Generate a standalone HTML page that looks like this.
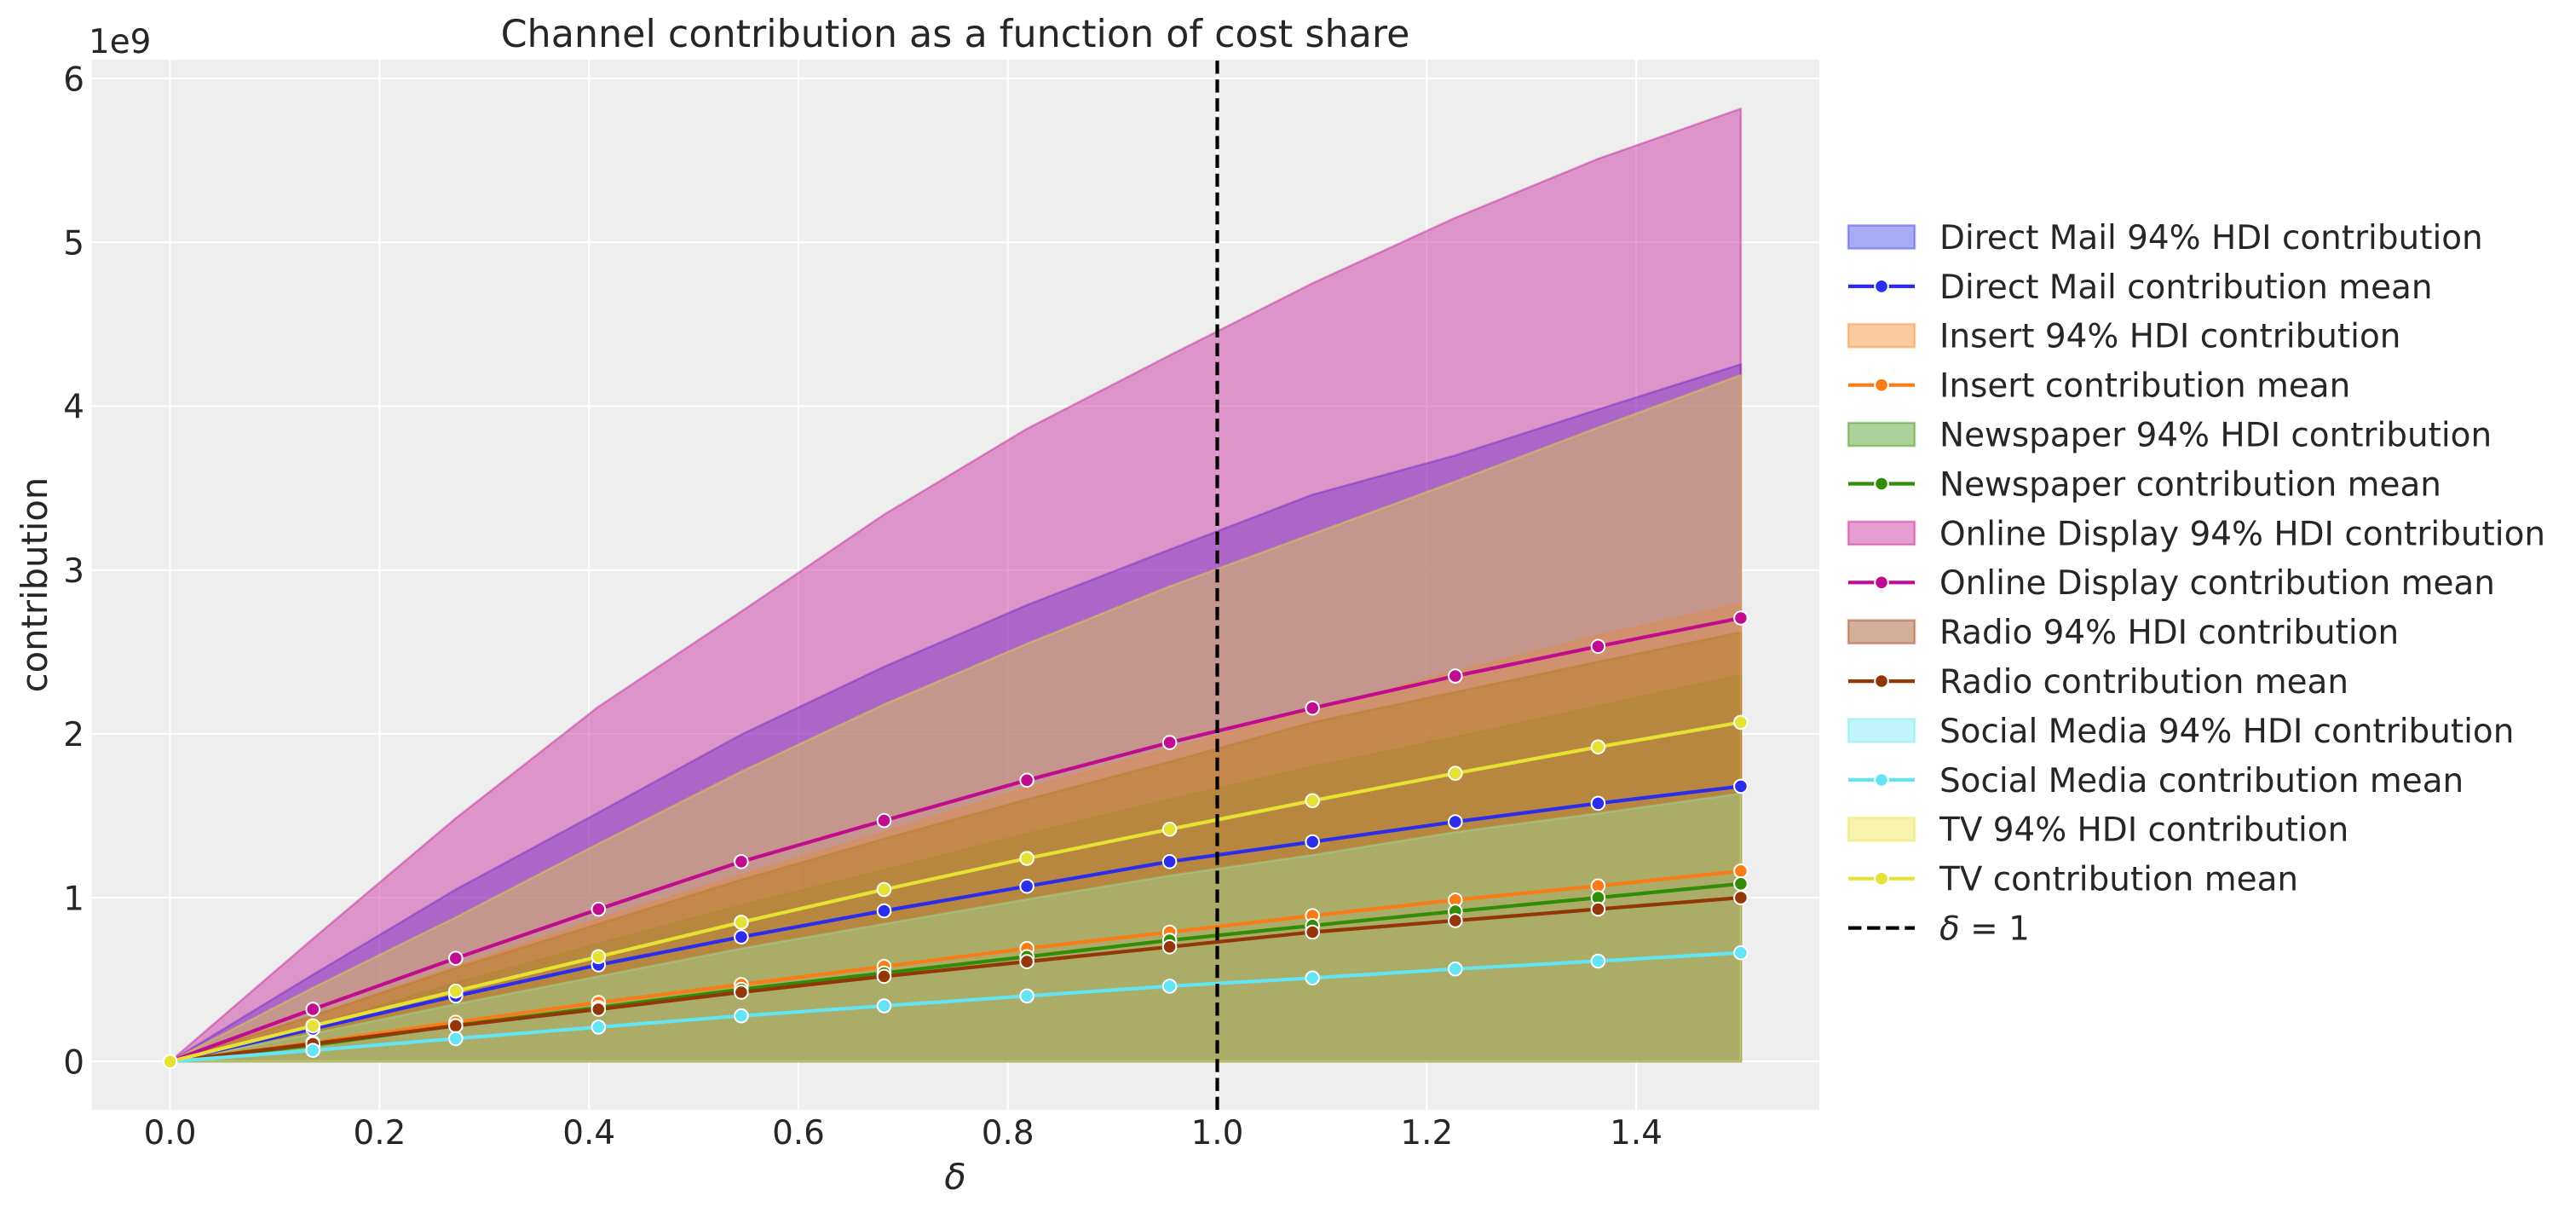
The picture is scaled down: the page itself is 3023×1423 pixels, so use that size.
<!DOCTYPE html>
<html><head><meta charset="utf-8"><style>
html,body{margin:0;padding:0;background:#fff;}
svg{display:block;}
text{font-family:"DejaVu Sans","Liberation Sans",sans-serif;fill:#262626;}
</style></head><body>
<svg width="3023" height="1423" viewBox="0 0 3023 1423" xmlns="http://www.w3.org/2000/svg">
<rect x="0" y="0" width="3023" height="1423" fill="#ffffff"/>
<rect x="107.4" y="70" width="2027.7" height="1232" fill="#eeeeee"/>
<g stroke="#ffffff" stroke-width="2">
<line x1="107.4" x2="2135.1" y1="1245.3" y2="1245.3"/>
<line x1="107.4" x2="2135.1" y1="1053.1" y2="1053.1"/>
<line x1="107.4" x2="2135.1" y1="860.9" y2="860.9"/>
<line x1="107.4" x2="2135.1" y1="668.7" y2="668.7"/>
<line x1="107.4" x2="2135.1" y1="476.5" y2="476.5"/>
<line x1="107.4" x2="2135.1" y1="284.3" y2="284.3"/>
<line x1="107.4" x2="2135.1" y1="92.1" y2="92.1"/>
<line y1="70" y2="1302" x1="199.6" x2="199.6"/>
<line y1="70" y2="1302" x1="445.4" x2="445.4"/>
<line y1="70" y2="1302" x1="691.2" x2="691.2"/>
<line y1="70" y2="1302" x1="937.0" x2="937.0"/>
<line y1="70" y2="1302" x1="1182.7" x2="1182.7"/>
<line y1="70" y2="1302" x1="1428.5" x2="1428.5"/>
<line y1="70" y2="1302" x1="1674.3" x2="1674.3"/>
<line y1="70" y2="1302" x1="1920.1" x2="1920.1"/>
</g>
<g fill-opacity="0.4" stroke-opacity="0.4" stroke-width="2.5" stroke-linejoin="round">
<polygon fill="#2a2eec" stroke="#2a2eec" points="199.6,1245.3 367.2,1143.4 534.8,1043.5 702.3,953.2 869.9,861.7 1037.5,782.1 1205.1,709.8 1372.6,644.7 1540.2,580.3 1707.8,534.2 1875.4,480.3 2042.9,427.3 2042.9,1245.3"/>
<polygon fill="#fa7c17" stroke="#fa7c17" points="199.6,1245.3 367.2,1191.5 534.8,1133.8 702.3,1078.1 869.9,1026.2 1037.5,976.2 1205.1,924.3 1372.6,878.2 1540.2,832.1 1707.8,787.9 1875.4,745.6 2042.9,708.1 2042.9,1245.3"/>
<polygon fill="#328c06" stroke="#328c06" points="199.6,1245.3 367.2,1203.0 534.8,1153.0 702.3,1106.9 869.9,1061.7 1037.5,1020.4 1205.1,978.1 1372.6,937.8 1540.2,899.3 1707.8,864.7 1875.4,828.2 2042.9,791.7 2042.9,1245.3"/>
<polygon fill="#c10c90" stroke="#c10c90" points="199.6,1245.3 367.2,1101.2 534.8,959.9 702.3,829.0 869.9,717.3 1037.5,603.6 1205.1,503.0 1372.6,416.9 1540.2,332.3 1707.8,255.5 1875.4,186.3 2042.9,127.5 2042.9,1245.3"/>
<polygon fill="#933708" stroke="#933708" points="199.6,1245.3 367.2,1191.5 534.8,1135.7 702.3,1083.9 869.9,1032.0 1037.5,983.9 1205.1,937.8 1372.6,893.6 1540.2,847.4 1707.8,811.9 1875.4,776.3 2042.9,741.7 2042.9,1245.3"/>
<polygon fill="#65e5f3" stroke="#65e5f3" points="199.6,1245.3 367.2,1212.6 534.8,1178.0 702.3,1145.4 869.9,1112.7 1037.5,1083.9 1205.1,1055.0 1372.6,1027.2 1540.2,1003.1 1707.8,976.2 1875.4,954.1 2042.9,930.9 2042.9,1245.3"/>
<polygon fill="#e6e135" stroke="#e6e135" points="199.6,1245.3 367.2,1158.8 534.8,1076.2 702.3,989.7 869.9,905.1 1037.5,826.3 1205.1,755.2 1372.6,687.9 1540.2,626.4 1707.8,564.9 1875.4,501.5 2042.9,440.0 2042.9,1245.3"/>
</g>
<g fill="none" stroke-width="4.2" stroke-linejoin="round">
<polyline stroke="#2a2eec" points="199.6,1245.3 367.2,1206.9 534.8,1168.4 702.3,1131.9 869.9,1099.2 1037.5,1068.5 1205.1,1039.7 1372.6,1010.8 1540.2,987.6 1707.8,964.1 1875.4,942.4 2042.9,922.4"/>
</g>
<g fill="#2a2eec" stroke="#fff" stroke-width="2">
<circle cx="199.6" cy="1245.3" r="7.8"/><circle cx="367.2" cy="1206.9" r="7.8"/><circle cx="534.8" cy="1168.4" r="7.8"/><circle cx="702.3" cy="1131.9" r="7.8"/><circle cx="869.9" cy="1099.2" r="7.8"/><circle cx="1037.5" cy="1068.5" r="7.8"/><circle cx="1205.1" cy="1039.7" r="7.8"/><circle cx="1372.6" cy="1010.8" r="7.8"/><circle cx="1540.2" cy="987.6" r="7.8"/><circle cx="1707.8" cy="964.1" r="7.8"/><circle cx="1875.4" cy="942.4" r="7.8"/><circle cx="2042.9" cy="922.4" r="7.8"/>
</g>
<polyline fill="none" stroke-width="4.2" stroke-linejoin="round" stroke="#fa7c17" points="199.6,1245.3 367.2,1223.2 534.8,1199.2 702.3,1176.1 869.9,1155.0 1037.5,1133.8 1205.1,1112.7 1372.6,1093.5 1540.2,1074.2 1707.8,1055.8 1875.4,1039.3 2042.9,1021.8"/>
<g fill="#fa7c17" stroke="#fff" stroke-width="2">
<circle cx="199.6" cy="1245.3" r="7.8"/><circle cx="367.2" cy="1223.2" r="7.8"/><circle cx="534.8" cy="1199.2" r="7.8"/><circle cx="702.3" cy="1176.1" r="7.8"/><circle cx="869.9" cy="1155.0" r="7.8"/><circle cx="1037.5" cy="1133.8" r="7.8"/><circle cx="1205.1" cy="1112.7" r="7.8"/><circle cx="1372.6" cy="1093.5" r="7.8"/><circle cx="1540.2" cy="1074.2" r="7.8"/><circle cx="1707.8" cy="1055.8" r="7.8"/><circle cx="1875.4" cy="1039.3" r="7.8"/><circle cx="2042.9" cy="1021.8" r="7.8"/>
</g>
<polyline fill="none" stroke-width="4.2" stroke-linejoin="round" stroke="#328c06" points="199.6,1245.3 367.2,1226.1 534.8,1203.0 702.3,1181.9 869.9,1160.7 1037.5,1141.5 1205.1,1122.3 1372.6,1103.1 1540.2,1085.8 1707.8,1069.1 1875.4,1053.1 2042.9,1036.8"/>
<g fill="#328c06" stroke="#fff" stroke-width="2">
<circle cx="199.6" cy="1245.3" r="7.8"/><circle cx="367.2" cy="1226.1" r="7.8"/><circle cx="534.8" cy="1203.0" r="7.8"/><circle cx="702.3" cy="1181.9" r="7.8"/><circle cx="869.9" cy="1160.7" r="7.8"/><circle cx="1037.5" cy="1141.5" r="7.8"/><circle cx="1205.1" cy="1122.3" r="7.8"/><circle cx="1372.6" cy="1103.1" r="7.8"/><circle cx="1540.2" cy="1085.8" r="7.8"/><circle cx="1707.8" cy="1069.1" r="7.8"/><circle cx="1875.4" cy="1053.1" r="7.8"/><circle cx="2042.9" cy="1036.8" r="7.8"/>
</g>
<polyline fill="none" stroke-width="4.2" stroke-linejoin="round" stroke="#c10c90" points="199.6,1245.3 367.2,1184.0 534.8,1124.2 702.3,1066.6 869.9,1010.8 1037.5,962.6 1205.1,915.3 1372.6,871.1 1540.2,830.7 1707.8,793.1 1875.4,758.3 2042.9,725.0"/>
<g fill="#c10c90" stroke="#fff" stroke-width="2">
<circle cx="199.6" cy="1245.3" r="7.8"/><circle cx="367.2" cy="1184.0" r="7.8"/><circle cx="534.8" cy="1124.2" r="7.8"/><circle cx="702.3" cy="1066.6" r="7.8"/><circle cx="869.9" cy="1010.8" r="7.8"/><circle cx="1037.5" cy="962.6" r="7.8"/><circle cx="1205.1" cy="915.3" r="7.8"/><circle cx="1372.6" cy="871.1" r="7.8"/><circle cx="1540.2" cy="830.7" r="7.8"/><circle cx="1707.8" cy="793.1" r="7.8"/><circle cx="1875.4" cy="758.3" r="7.8"/><circle cx="2042.9" cy="725.0" r="7.8"/>
</g>
<polyline fill="none" stroke-width="4.2" stroke-linejoin="round" stroke="#933708" points="199.6,1245.3 367.2,1224.5 534.8,1203.4 702.3,1184.0 869.9,1164.0 1037.5,1145.4 1205.1,1128.1 1372.6,1110.8 1540.2,1093.5 1707.8,1080.0 1875.4,1066.5 2042.9,1053.1"/>
<g fill="#933708" stroke="#fff" stroke-width="2">
<circle cx="199.6" cy="1245.3" r="7.8"/><circle cx="367.2" cy="1224.5" r="7.8"/><circle cx="534.8" cy="1203.4" r="7.8"/><circle cx="702.3" cy="1184.0" r="7.8"/><circle cx="869.9" cy="1164.0" r="7.8"/><circle cx="1037.5" cy="1145.4" r="7.8"/><circle cx="1205.1" cy="1128.1" r="7.8"/><circle cx="1372.6" cy="1110.8" r="7.8"/><circle cx="1540.2" cy="1093.5" r="7.8"/><circle cx="1707.8" cy="1080.0" r="7.8"/><circle cx="1875.4" cy="1066.5" r="7.8"/><circle cx="2042.9" cy="1053.1" r="7.8"/>
</g>
<polyline fill="none" stroke-width="4.2" stroke-linejoin="round" stroke="#65e5f3" points="199.6,1245.3 367.2,1232.2 534.8,1218.4 702.3,1204.9 869.9,1191.7 1037.5,1180.0 1205.1,1168.4 1372.6,1156.9 1540.2,1147.3 1707.8,1136.7 1875.4,1127.5 2042.9,1117.7"/>
<g fill="#65e5f3" stroke="#fff" stroke-width="2">
<circle cx="199.6" cy="1245.3" r="7.8"/><circle cx="367.2" cy="1232.2" r="7.8"/><circle cx="534.8" cy="1218.4" r="7.8"/><circle cx="702.3" cy="1204.9" r="7.8"/><circle cx="869.9" cy="1191.7" r="7.8"/><circle cx="1037.5" cy="1180.0" r="7.8"/><circle cx="1205.1" cy="1168.4" r="7.8"/><circle cx="1372.6" cy="1156.9" r="7.8"/><circle cx="1540.2" cy="1147.3" r="7.8"/><circle cx="1707.8" cy="1136.7" r="7.8"/><circle cx="1875.4" cy="1127.5" r="7.8"/><circle cx="2042.9" cy="1117.7" r="7.8"/>
</g>
<polyline fill="none" stroke-width="4.2" stroke-linejoin="round" stroke="#e6e135" points="199.6,1245.3 367.2,1203.4 534.8,1162.7 702.3,1122.3 869.9,1081.9 1037.5,1043.5 1205.1,1007.0 1372.6,972.8 1540.2,939.3 1707.8,907.2 1875.4,876.3 2042.9,847.4"/>
<g fill="#e6e135" stroke="#fff" stroke-width="2">
<circle cx="199.6" cy="1245.3" r="7.8"/><circle cx="367.2" cy="1203.4" r="7.8"/><circle cx="534.8" cy="1162.7" r="7.8"/><circle cx="702.3" cy="1122.3" r="7.8"/><circle cx="869.9" cy="1081.9" r="7.8"/><circle cx="1037.5" cy="1043.5" r="7.8"/><circle cx="1205.1" cy="1007.0" r="7.8"/><circle cx="1372.6" cy="972.8" r="7.8"/><circle cx="1540.2" cy="939.3" r="7.8"/><circle cx="1707.8" cy="907.2" r="7.8"/><circle cx="1875.4" cy="876.3" r="7.8"/><circle cx="2042.9" cy="847.4" r="7.8"/>
</g>
<line x1="1428.5" x2="1428.5" y1="1302" y2="70" stroke="#000" stroke-width="4.2" stroke-dasharray="15.4 6.7"/>

<text x="1121" y="55" font-size="44.4" text-anchor="middle">Channel contribution as a function of cost share</text>
<text x="104" y="62" font-size="38.9">1e9</text>
<g font-size="38.9" text-anchor="end">
<text x="99" y="1259.5">0</text>
<text x="99" y="1067.3">1</text>
<text x="99" y="875.1">2</text>
<text x="99" y="682.9">3</text>
<text x="99" y="490.7">4</text>
<text x="99" y="298.5">5</text>
<text x="99" y="106.3">6</text>
</g>
<g font-size="38.9" text-anchor="middle">
<text x="199.6" y="1342">0.0</text>
<text x="445.4" y="1342">0.2</text>
<text x="691.2" y="1342">0.4</text>
<text x="937.0" y="1342">0.6</text>
<text x="1182.7" y="1342">0.8</text>
<text x="1428.5" y="1342">1.0</text>
<text x="1674.3" y="1342">1.2</text>
<text x="1920.1" y="1342">1.4</text>
</g>
<text x="1121" y="1395" font-size="41.7" text-anchor="middle" font-style="italic">δ</text>
<text transform="translate(55,686) rotate(-90)" font-size="41.7" text-anchor="middle">contribution</text>

<g font-size="38.9">
<rect x="2169" y="264.4" width="78" height="27.2" fill="#2a2eec" fill-opacity="0.4" stroke="#2a2eec" stroke-opacity="0.4" stroke-width="2.5"/>
<text x="2276" y="291.9">Direct Mail 94% HDI contribution</text>
<line x1="2169" x2="2247" y1="335.9" y2="335.9" stroke="#2a2eec" stroke-width="4.2"/>
<circle cx="2208" cy="335.9" r="7.8" fill="#2a2eec" stroke="#fff" stroke-width="2"/>
<text x="2276" y="349.8">Direct Mail contribution mean</text>

<rect x="2169" y="380.2" width="78" height="27.2" fill="#fa7c17" fill-opacity="0.4" stroke="#fa7c17" stroke-opacity="0.4" stroke-width="2.5"/>
<text x="2276" y="407.7">Insert 94% HDI contribution</text>
<line x1="2169" x2="2247" y1="451.7" y2="451.7" stroke="#fa7c17" stroke-width="4.2"/>
<circle cx="2208" cy="451.7" r="7.8" fill="#fa7c17" stroke="#fff" stroke-width="2"/>
<text x="2276" y="465.6">Insert contribution mean</text>

<rect x="2169" y="496.0" width="78" height="27.2" fill="#328c06" fill-opacity="0.4" stroke="#328c06" stroke-opacity="0.4" stroke-width="2.5"/>
<text x="2276" y="523.5">Newspaper 94% HDI contribution</text>
<line x1="2169" x2="2247" y1="567.5" y2="567.5" stroke="#328c06" stroke-width="4.2"/>
<circle cx="2208" cy="567.5" r="7.8" fill="#328c06" stroke="#fff" stroke-width="2"/>
<text x="2276" y="581.4">Newspaper contribution mean</text>

<rect x="2169" y="611.8" width="78" height="27.2" fill="#c10c90" fill-opacity="0.4" stroke="#c10c90" stroke-opacity="0.4" stroke-width="2.5"/>
<text x="2276" y="639.3">Online Display 94% HDI contribution</text>
<line x1="2169" x2="2247" y1="683.3" y2="683.3" stroke="#c10c90" stroke-width="4.2"/>
<circle cx="2208" cy="683.3" r="7.8" fill="#c10c90" stroke="#fff" stroke-width="2"/>
<text x="2276" y="697.2">Online Display contribution mean</text>

<rect x="2169" y="727.6" width="78" height="27.2" fill="#933708" fill-opacity="0.4" stroke="#933708" stroke-opacity="0.4" stroke-width="2.5"/>
<text x="2276" y="755.1">Radio 94% HDI contribution</text>
<line x1="2169" x2="2247" y1="799.1" y2="799.1" stroke="#933708" stroke-width="4.2"/>
<circle cx="2208" cy="799.1" r="7.8" fill="#933708" stroke="#fff" stroke-width="2"/>
<text x="2276" y="813.0">Radio contribution mean</text>

<rect x="2169" y="843.4" width="78" height="27.2" fill="#65e5f3" fill-opacity="0.4" stroke="#65e5f3" stroke-opacity="0.4" stroke-width="2.5"/>
<text x="2276" y="870.9">Social Media 94% HDI contribution</text>
<line x1="2169" x2="2247" y1="914.9" y2="914.9" stroke="#65e5f3" stroke-width="4.2"/>
<circle cx="2208" cy="914.9" r="7.8" fill="#65e5f3" stroke="#fff" stroke-width="2"/>
<text x="2276" y="928.8">Social Media contribution mean</text>

<rect x="2169" y="959.2" width="78" height="27.2" fill="#e6e135" fill-opacity="0.4" stroke="#e6e135" stroke-opacity="0.4" stroke-width="2.5"/>
<text x="2276" y="986.7">TV 94% HDI contribution</text>
<line x1="2169" x2="2247" y1="1030.7" y2="1030.7" stroke="#e6e135" stroke-width="4.2"/>
<circle cx="2208" cy="1030.7" r="7.8" fill="#e6e135" stroke="#fff" stroke-width="2"/>
<text x="2276" y="1044.6">TV contribution mean</text>

<line x1="2169" x2="2247" y1="1088.6" y2="1088.6" stroke="#000" stroke-width="4.2" stroke-dasharray="15.4 6.7"/>
<text x="2276" y="1102.5"><tspan font-style="italic">δ</tspan> = 1</text>
</g>
</svg>
</body></html>
